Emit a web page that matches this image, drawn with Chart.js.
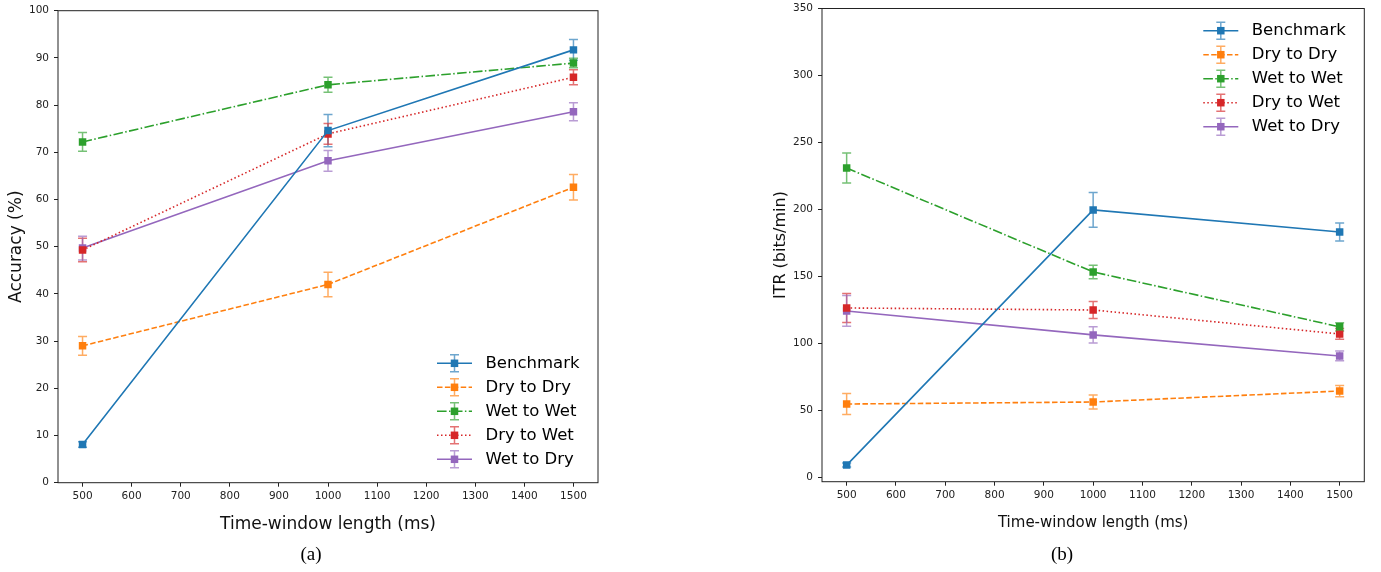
<!DOCTYPE html>
<html>
<head>
<meta charset="utf-8">
<script src="https://cdn.jsdelivr.net/npm/chart.js@4.4.1/dist/chart.umd.min.js"></script>
<style>
body{margin:0;background:#fff;width:1381px;height:572px;position:relative;overflow:hidden}
canvas{position:absolute;top:0}
#accChart{left:0}
#itrChart{left:760px}
.cap{position:absolute;top:543px;width:60px;text-align:center;font-family:"Liberation Serif","Times New Roman",serif;font-size:19px;color:#000}
</style>
</head>
<body>
<canvas id="accChart" width="610" height="545"></canvas>
<canvas id="itrChart" width="620" height="545"></canvas>
<div class="cap" style="left:281px">(a)</div>
<div class="cap" style="left:1032px">(b)</div>
<script>
// time windows (ms)
var timeWindows = [500, 1000, 1500];
var seriesNames = ['Benchmark', 'Dry to Dry', 'Wet to Wet', 'Dry to Wet', 'Wet to Dry'];

// accuracy (%) and std
var accBenchmark = [8.1, 74.6, 91.7];
var accBenchmarkErr = [0.6, 3.4, 2.2];
var accDryDry = [29.0, 42.0, 62.6];
var accDryDryErr = [2.0, 2.6, 2.7];
var accWetWet = [72.2, 84.3, 88.9];
var accWetWetErr = [2.0, 1.6, 1.0];
var accDryWet = [49.3, 73.9, 85.9];
var accDryWetErr = [2.5, 2.2, 1.6];
var accWetDry = [49.7, 68.2, 78.6];
var accWetDryErr = [2.5, 2.2, 1.9];

// ITR (bits/min) and std
var itrBenchmark = [9.1, 199.6, 183.1];
var itrBenchmarkErr = [1.5, 13.0, 6.7];
var itrDryDry = [54.7, 56.2, 64.4];
var itrDryDryErr = [7.8, 5.2, 4.2];
var itrWetWet = [230.9, 153.3, 112.3];
var itrWetWetErr = [11.2, 5.0, 3.0];
var itrDryWet = [126.4, 124.9, 107.0];
var itrDryWetErr = [10.8, 6.4, 4.0];
var itrWetDry = [124.2, 106.3, 90.6];
var itrWetDryErr = [11.5, 6.0, 3.6];

// tick labels
var xTickValues = [500, 600, 700, 800, 900, 1000, 1100, 1200, 1300, 1400, 1500];
var accTickValues = [0, 10, 20, 30, 40, 50, 60, 70, 80, 90, 100];
var itrTickValues = [0, 50, 100, 150, 200, 250, 300, 350];
var accRange = [0, 100];
var itrRange = [-3.3, 350];

var colorHex = ['#1f77b4', '#ff7f0e', '#2ca02c', '#d62728', '#9467bd'];
var dashes = [[], [5.5, 2.4], [9.6, 2.4, 1.5, 2.4], [1.5, 2.5], []];

function fade(hex, a){
    var n = parseInt(hex.slice(1), 16);
    return 'rgba(' + (n >> 16) + ',' + ((n >> 8) & 255) + ',' + (n & 255) + ',' + a + ')';
}

function makeSets(means, errs){
    var sets = [];
    for(var i = 0; i < means.length; i++){
        sets.push({
            label: seriesNames[i],
            data: timeWindows.map(function(x, j){ return {x: x, y: means[i][j]}; }),
            errors: errs[i],
            borderColor: colorHex[i],
            backgroundColor: colorHex[i],
            borderWidth: 1.6,
            borderDash: dashes[i],
            pointStyle: 'rect',
            pointRadius: 5.3,
            pointBorderWidth: 0,
            pointBackgroundColor: colorHex[i],
            tension: 0
        });
    }
    return sets;
}

// error bars + frame
var errorBars = {
    id: 'errorBars',
    beforeDatasetsDraw: function(chart){
        var ctx = chart.ctx, ys = chart.scales.y;
        chart.data.datasets.forEach(function(ds, i){
            var meta = chart.getDatasetMeta(i);
            ctx.save();
            ctx.strokeStyle = fade(ds.borderColor, 0.65);
            ctx.lineWidth = 1.5;
            meta.data.forEach(function(pt, j){
                var v = ds.data[j].y, e = ds.errors[j];
                var top = ys.getPixelForValue(v + e), bot = ys.getPixelForValue(v - e);
                ctx.beginPath();
                ctx.moveTo(pt.x, top); ctx.lineTo(pt.x, bot);
                ctx.moveTo(pt.x - 4.5, top); ctx.lineTo(pt.x + 4.5, top);
                ctx.moveTo(pt.x - 4.5, bot); ctx.lineTo(pt.x + 4.5, bot);
                ctx.stroke();
            });
            ctx.restore();
        });
    },
    afterDraw: function(chart){
        var a = chart.chartArea, ctx = chart.ctx;
        ctx.save();
        ctx.strokeStyle = '#222';
        ctx.lineWidth = 1;
        ctx.strokeRect(a.left, a.top, a.right - a.left, a.bottom - a.top);
        ctx.restore();
    }
};

var innerLegend = {
    id: 'innerLegend',
    afterDraw: function(chart, args, opts){
        var a = chart.chartArea, ctx = chart.ctx;
        var x0 = a.right - 161;
        var y0 = opts.corner === 'top' ? a.top + 22.2 : a.bottom - 119.4;
        chart.data.datasets.forEach(function(ds, i){
            var y = y0 + i * 24, xm = x0 + 17.5;
            ctx.save();
            ctx.strokeStyle = ds.borderColor;
            ctx.lineWidth = 1.6;
            ctx.setLineDash(ds.borderDash);
            ctx.beginPath(); ctx.moveTo(x0, y); ctx.lineTo(x0 + 35, y); ctx.stroke();
            ctx.setLineDash([]);
            ctx.lineWidth = 1.5;
            ctx.strokeStyle = fade(ds.borderColor, 0.65);
            ctx.beginPath();
            ctx.moveTo(xm, y - 8.5); ctx.lineTo(xm, y + 8.5);
            ctx.moveTo(xm - 4.5, y - 8.5); ctx.lineTo(xm + 4.5, y - 8.5);
            ctx.moveTo(xm - 4.5, y + 8.5); ctx.lineTo(xm + 4.5, y + 8.5);
            ctx.stroke();
            ctx.fillStyle = ds.borderColor;
            ctx.fillRect(xm - 3.75, y - 3.75, 7.5, 7.5);
            ctx.fillStyle = '#000';
            ctx.font = '16.5px "DejaVu Sans"';
            ctx.textBaseline = 'middle';
            ctx.textAlign = 'left';
            ctx.fillText(ds.label, x0 + 48.5, y);
            ctx.restore();
        });
    }
};

function makeChart(id, sets, yRange, yTicks, o){
    return new Chart(document.getElementById(id).getContext('2d'), {
        type: 'line',
        data: {datasets: sets},
        plugins: [errorBars, innerLegend],
        options: {
            responsive: false,
            animation: false,
            layout: {padding: {top: o.padTop, right: o.padRight, left: 0, bottom: 0}},
            plugins: {
                legend: {display: false},
                tooltip: {enabled: false},
                innerLegend: {corner: o.corner}
            },
            scales: {
                x: {
                    type: 'linear',
                    min: 450, max: 1550,
                    afterBuildTicks: function(s){ s.ticks = xTickValues.map(function(v){ return {value: v}; }); },
                    afterFit: function(s){ s.height = o.xHeight; s.paddingLeft = 0; s.paddingRight = 0; },
                    ticks: {padding: 3, color: '#222', font: {family: 'DejaVu Sans', size: 10.5}, maxRotation: 0,
                        callback: function(v){ return String(v); }},
                    grid: {drawOnChartArea: false, drawTicks: true, tickLength: 4, tickColor: '#222'},
                    border: {display: false},
                    title: {display: true, text: 'Time-window length (ms)', color: '#111',
                        font: {family: 'DejaVu Sans', size: o.xTitleSize},
                        padding: {top: 0, bottom: o.xTitlePad}}
                },
                y: {
                    min: yRange[0], max: yRange[1],
                    afterBuildTicks: function(s){ s.ticks = yTicks.map(function(v){ return {value: v}; }); },
                    afterFit: function(s){ s.width = o.yWidth; s.paddingTop = 0; s.paddingBottom = 0; },
                    ticks: {padding: 5, color: '#222', font: {family: 'DejaVu Sans', size: 10.5}},
                    grid: {drawOnChartArea: false, drawTicks: true, tickLength: 4, tickColor: '#222'},
                    border: {display: false},
                    title: {display: true, text: o.yTitle, color: '#111',
                        font: {family: 'DejaVu Sans', size: o.yTitleSize},
                        padding: {top: o.yTitlePad, bottom: 0}}
                }
            }
        }
    });
}

makeChart('accChart',
    makeSets([accBenchmark, accDryDry, accWetWet, accDryWet, accWetDry],
             [accBenchmarkErr, accDryDryErr, accWetWetErr, accDryWetErr, accWetDryErr]),
    accRange, accTickValues,
    {padTop: 10.7, padRight: 12, xHeight: 62.3, yWidth: 58, corner: 'bottom',
     yTitle: 'Accuracy (%)', yTitleSize: 17, yTitlePad: 6.8, xTitleSize: 17, xTitlePad: 9.8});

makeChart('itrChart',
    makeSets([itrBenchmark, itrDryDry, itrWetWet, itrDryWet, itrWetDry],
             [itrBenchmarkErr, itrDryDryErr, itrWetWetErr, itrDryWetErr, itrWetDryErr]),
    itrRange, itrTickValues,
    {padTop: 8.5, padRight: 15.7, xHeight: 63.3, yWidth: 62, corner: 'top',
     yTitle: 'ITR (bits/min)', yTitleSize: 16, yTitlePad: 11.4, xTitleSize: 15, xTitlePad: 12.7});
</script>
</body>
</html>
